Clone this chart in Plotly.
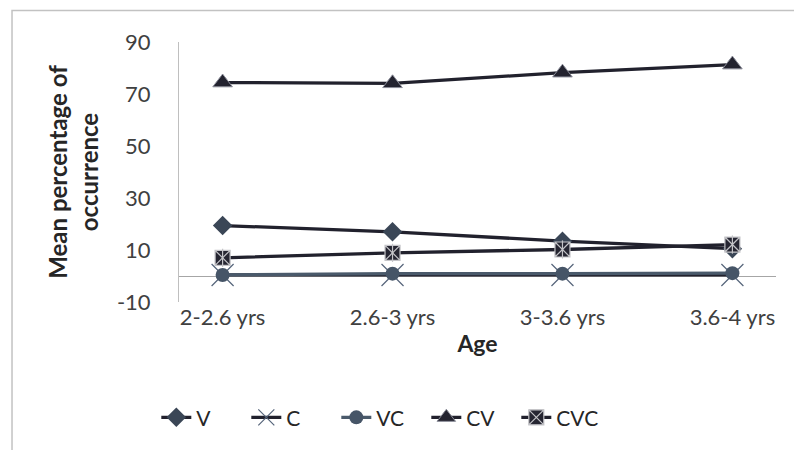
import plotly.graph_objects as go

# Age groups and mean percentage of occurrence for each syllable shape
ages = ["2-2.6 yrs", "2.6-3 yrs", "3-3.6 yrs", "3.6-4 yrs"]
v_vals = [19.4, 17.0, 13.4, 10.5]
c_vals = [0.4, 0.4, 0.4, 0.4]
vc_vals = [0.4, 0.9, 0.9, 1.1]
cv_vals = [74.4, 74.1, 78.2, 81.3]
cvc_vals = [7.0, 8.9, 10.2, 12.1]

# value-axis ticks (plain hyphen for the negative label)
y_tickvals = [-10, 10, 30, 50, 70, 90]
y_ticktext = ["-10", "10", "30", "50", "70", "90"]

FONT = "Lato"
DARK = "#21212d"
SLATE = "#44546a"

fig = go.Figure()

fig.add_trace(go.Scatter(
    x=ages, y=v_vals, name="V", mode="lines+markers",
    line=dict(color=DARK, width=3.3),
    marker=dict(symbol="diamond", size=15, color="#3a4656",
                line=dict(color="#3a4656", width=0)),
))
fig.add_trace(go.Scatter(
    x=ages, y=c_vals, name="C", mode="lines+markers",
    line=dict(color=DARK, width=3.3),
    marker=dict(symbol="x-thin", size=22, color=SLATE,
                line=dict(color="#55647a", width=1.2)),
))
fig.add_trace(go.Scatter(
    x=ages, y=vc_vals, name="VC", mode="lines+markers",
    line=dict(color="#4a5a6b", width=3.3),
    marker=dict(symbol="circle", size=14, color="#465567",
                line=dict(color="#465567", width=0)),
))
fig.add_trace(go.Scatter(
    x=ages, y=cv_vals, name="CV", mode="lines+markers",
    line=dict(color=DARK, width=3.3),
    marker=dict(symbol="triangle-up", size=17, color="#23232f",
                line=dict(color="#8a8c98", width=1)),
))
fig.add_trace(go.Scatter(
    x=ages, y=cvc_vals, name="CVC", mode="lines+markers",
    legendgroup="cvc",
    line=dict(color=DARK, width=3.3),
    marker=dict(symbol="square-x", size=15, color="#262632",
                line=dict(color="#c4c4c8", width=1.2)),
))
# vertical stroke completing the asterisk inside the CVC squares
fig.add_trace(go.Scatter(
    x=ages, y=cvc_vals, name="CVC", mode="markers",
    legendgroup="cvc", showlegend=False, hoverinfo="skip",
    marker=dict(symbol="line-ns", size=13, color="#c4c4c8",
                line=dict(color="#c4c4c8", width=1.2)),
))

# outer chart border
fig.add_shape(type="rect", xref="paper", yref="paper",
              x0=-0.2797, x1=1.06, y0=-0.62, y1=1.121,
              line=dict(color="#c2c2c2", width=1.5), fillcolor="rgba(0,0,0,0)",
              layer="below")

fig.update_layout(
    width=794, height=450,
    margin=dict(l=179, r=18, t=42, b=147.5),
    paper_bgcolor="white", plot_bgcolor="white",
    font=dict(family=FONT, color="#262626", size=21),
    showlegend=True,
    legend=dict(orientation="h", x=-0.038, xanchor="left", y=-0.445, yanchor="middle",
                font=dict(size=21, family=FONT, color="#262626"),
                entrywidth=45, entrywidthmode="pixels",
                traceorder="normal"),
    xaxis=dict(
        showline=False, showgrid=False, zeroline=False, ticks="",
        tickfont=dict(size=22, family=FONT, color="#404040"),
        title=dict(text="<b>Age</b>", font=dict(size=23, family=FONT, color="#262626"),
                   standoff=6),
    ),
    yaxis=dict(
        range=[-10, 90], tickmode="array", tickvals=y_tickvals, ticktext=y_ticktext,
        showgrid=False, showline=True, linecolor="#bfbfbf", linewidth=1,
        zeroline=True, zerolinecolor="#a6a6a6", zerolinewidth=1,
        ticks="", ticklabelstandoff=23,
        tickfont=dict(size=22, family=FONT, color="#404040"),
        title=dict(text="<b>Mean percentage of<br>occurrence</b>",
                   font=dict(size=24, family=FONT, color="#262626"), standoff=11),
    ),
)

fig.write_html("out.html")
